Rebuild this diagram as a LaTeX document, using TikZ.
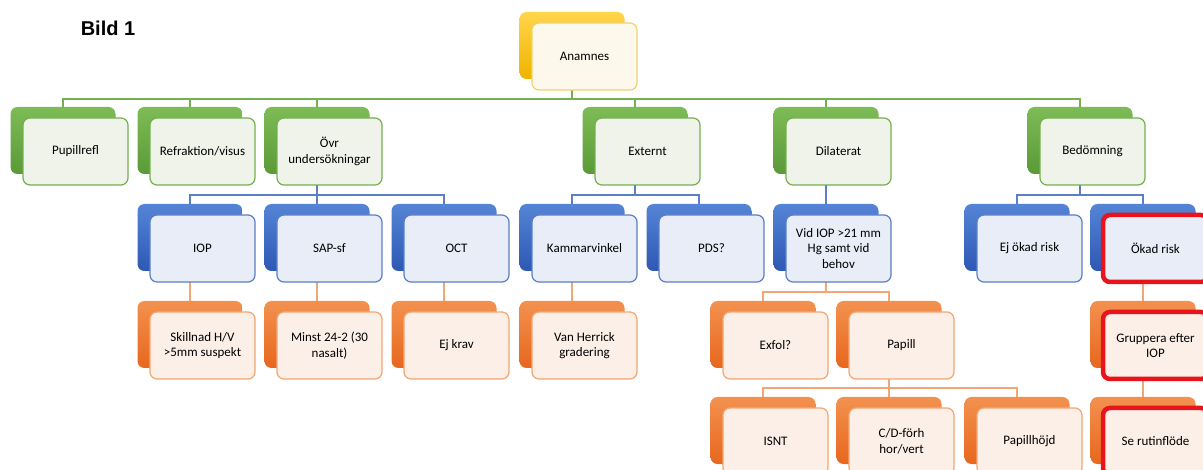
\documentclass[tikz,border=0pt]{standalone}
\usepackage{fontspec}
\setmainfont{Carlito}
\newfontfamily\headfont{Liberation Sans}
\usepackage{tikz}
\usetikzlibrary{calc, backgrounds}

\definecolor{gldTop}{HTML}{FFD54A}
\definecolor{gldBot}{HTML}{F0B400}
\definecolor{gldLine}{HTML}{F3CF6E}
\definecolor{gldFill}{HTML}{FDF8EC}
\definecolor{grnTop}{HTML}{7DBB55}
\definecolor{grnBot}{HTML}{5A9A37}
\definecolor{grnLine}{HTML}{74AF50}
\definecolor{grnFill}{HTML}{EFF3EA}
\definecolor{bluTop}{HTML}{5584D6}
\definecolor{bluBot}{HTML}{2D58B4}
\definecolor{bluLine}{HTML}{5A7FC6}
\definecolor{bluFill}{HTML}{E8EDF7}
\definecolor{orgTop}{HTML}{F3914F}
\definecolor{orgBot}{HTML}{E7671D}
\definecolor{orgLine}{HTML}{F2A673}
\definecolor{orgFill}{HTML}{FBEFE7}
\definecolor{alarm}{HTML}{E8131B}

\tikzset{
  cardback/.style={
    rectangle, rounded corners=7pt,
    minimum width=105pt, minimum height=67pt,
    top color=#1Top, bottom color=#1Bot, draw=none
  },
  cardfront/.style={
    rectangle, rounded corners=7pt,
    minimum width=105pt, minimum height=67pt,
    draw=#1Line, line width=1.2pt, fill=#1Fill,
    align=center, text=black, inner sep=2pt,
    font=\fontsize{13}{15.5}\selectfont
  },
  flagged/.style={draw=alarm, line width=4.5pt},
  link/.style={draw=#1Line, line width=1.5pt},
}

% back card (name) + front card (name f)
\newcommand{\card}[5][]{%
  \node[cardback=#3] (#2) at #4 {};
  \node[cardfront=#3, #1] (#2f) at ($(#2)+(12.5,11)$) {#5};
}

\begin{document}
\begin{tikzpicture}[x=1pt, y=-1pt]
  \path[use as bounding box] (0,0) rectangle (1203,470);

  \node[font=\headfont\bfseries\fontsize{20}{24}\selectfont] (title) at (108,28) {Bild 1};

  % level 0
  \card{ana}{gld}{(572,45.5)}{Anamnes}

  % level 1
  \card{pup}{grn}{(63,140.5)}{Pupillrefl}
  \card{ref}{grn}{(190,140.5)}{Refraktion/visus}
  \card{ovr}{grn}{(317,140.5)}{Övr\\undersökningar}
  \card{ext}{grn}{(635,140.5)}{Externt}
  \card{dil}{grn}{(826,140.5)}{Dilaterat}
  \card{bed}{grn}{(1080,140.5)}{Bedömning}

  % level 2
  \card{iop}{blu}{(190,237.5)}{IOP}
  \card{sap}{blu}{(317,237.5)}{SAP-sf}
  \card{oct}{blu}{(444,237.5)}{OCT}
  \card{kam}{blu}{(572,237.5)}{Kammarvinkel}
  \card{pds}{blu}{(699,237.5)}{PDS?}
  \card{vid}{blu}{(826,237.5)}{Vid IOP >21 mm\\Hg samt vid\\behov}
  \card{ejok}{blu}{(1017,237.5)}{Ej ökad risk}
  \card[flagged]{okad}{blu}{(1143,237.5)}{Ökad risk}

  % level 3
  \card{skil}{org}{(190,334.5)}{Skillnad H/V\\>5mm suspekt}
  \card{minst}{org}{(317,334.5)}{Minst 24-2 (30\\nasalt)}
  \card{ejkrav}{org}{(444,334.5)}{Ej krav}
  \card{vanh}{org}{(572,334.5)}{Van Herrick\\gradering}
  \card{exfol}{org}{(763,334.5)}{Exfol?}
  \card{papill}{org}{(889,334.5)}{Papill}
  \card[flagged]{grupp}{org}{(1143,334.5)}{Gruppera efter\\IOP}

  % level 4
  \card{isnt}{org}{(763,430.5)}{ISNT}
  \card{cd}{org}{(889,430.5)}{C/D-förh\\hor/vert}
  \card{hojd}{org}{(1017,430.5)}{Papillhöjd}
  \card[flagged]{serut}{org}{(1143,430.5)}{Se rutinflöde}

  \begin{scope}[on background layer]
    \fill[white] (0,0) rectangle (1203,470);
    \foreach \c in {pup,ref,ovr,ext,dil,bed}
      \draw[link=grn] (ana.south) -- ++(0,20) -| (\c.north);
    \foreach \c in {iop,sap,oct}
      \draw[link=blu] (ovr.south) -- ++(0,21) -| (\c.north);
    \foreach \c in {kam,pds}
      \draw[link=blu] (ext.south) -- ++(0,21) -| (\c.north);
    \foreach \c in {ejok,okad}
      \draw[link=blu] (bed.south) -- ++(0,21) -| (\c.north);
    \draw[link=blu] (dil.south) -- (vid.north);
    \foreach \c in {exfol,papill}
      \draw[link=org] (vid.south) -- ++(0,21) -| (\c.north);
    \foreach \c in {isnt,cd,hojd}
      \draw[link=org] (papill.south) -- ++(0,20) -| (\c.north);
    \draw[link=org] (iop.south) -- (skil.north);
    \draw[link=org] (sap.south) -- (minst.north);
    \draw[link=org] (oct.south) -- (ejkrav.north);
    \draw[link=org] (kam.south) -- (vanh.north);
    \draw[link=org] (okad.south) -- (grupp.north);
    \draw[link=org] (grupp.south) -- (serut.north);
  \end{scope}
\end{tikzpicture}
\end{document}
